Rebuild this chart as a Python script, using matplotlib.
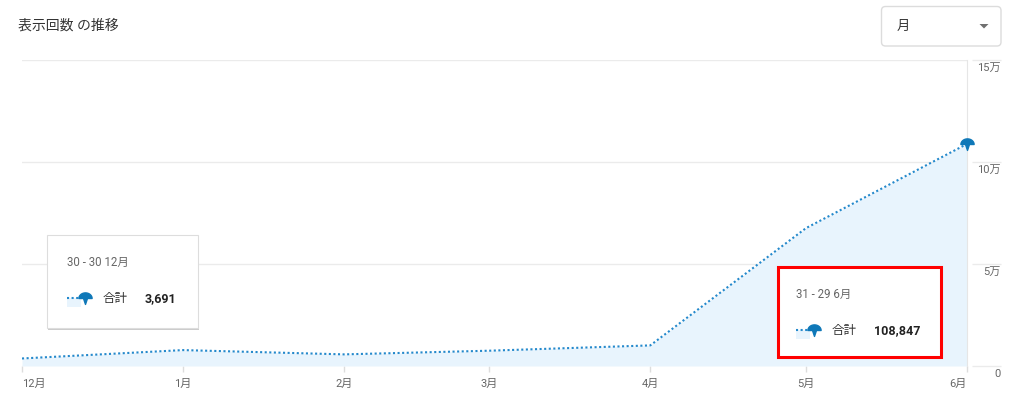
import numpy as np
import matplotlib
matplotlib.use("Agg")
import matplotlib.pyplot as plt
import matplotlib.dates as mdates
import matplotlib.transforms as mtransforms
import matplotlib.patheffects as pe
from matplotlib.path import Path
from matplotlib.patches import Rectangle, FancyBboxPatch, Polygon
from matplotlib.lines import Line2D

plt.rcParams["font.family"] = ["Roboto", "Noto Sans CJK JP", "DejaVu Sans"]

# data
dates = np.array(["2022-12-01", "2023-01-01", "2023-02-01", "2023-03-01",
                  "2023-04-01", "2023-05-01", "2023-06-01"], dtype="datetime64[D]")
month_labels = ["12月", "1月", "2月", "3月", "4月", "5月", "6月"]
views = [3691, 7800, 5700, 7500, 10100, 67600, 108847]
y_ticks = [0, 50000, 100000, 150000]
y_labels = ["0", "5万", "10万", "15万"]

LINE = "#2489cc"
MARK = "#0f78b8"
FILL = "#e8f4fd"
GRID = "#ebebeb"
TICK_TXT = "#666666"


def pin_marker():
    # dome on top, small point below
    t = np.linspace(0, np.pi, 30)
    verts = [(np.cos(a), 0.85 * np.sin(a)) for a in t]
    verts += [(-0.3, 0.0), (0.0, -0.9), (0.3, 0.0), (1.0, 0.0)]
    codes = [Path.MOVETO] + [Path.LINETO] * (len(verts) - 2) + [Path.CLOSEPOLY]
    return Path(verts, codes)


PIN = pin_marker()

fig = plt.figure(figsize=(10.24, 4.01), dpi=100)
ax = fig.add_axes([22 / 1024, 35 / 401, 945 / 1024, 306 / 401])

x = mdates.date2num(dates)
ax.fill_between(x, views, color=FILL, lw=0, zorder=1)
ax.plot(x, views, color=LINE, lw=1.5, ls=(0, (1, 1.2)), zorder=3)
ax.plot(x[-1], views[-1], marker=PIN, ms=9.5, color=MARK, zorder=4, clip_on=False)

ax.set_xlim(x[0], x[-1])
ax.set_ylim(0, 150000)

# y axis on the right
ax.yaxis.tick_right()
ax.set_yticks(y_ticks)
ax.set_yticklabels(y_labels, ha="right", va="top")
ax.tick_params(axis="y", length=0, pad=24.5, labelsize=8, colors=TICK_TXT)
shift = mtransforms.ScaledTranslation(0, -3 / 100, fig.dpi_scale_trans)
for t in ax.yaxis.get_major_ticks():
    t.label2.set_transform(t.label2.get_transform() + shift)
ax.grid(axis="y", color=GRID, lw=1)
ax.hlines(y_ticks, 1.0055, 1.036, transform=ax.get_yaxis_transform(),
          color=GRID, lw=1, clip_on=False)

ax.set_xticks(x)
ax.set_xticklabels(month_labels)
ax.tick_params(axis="x", length=4, width=1, color="#dddddd", pad=5,
               labelsize=8, labelcolor=TICK_TXT)
xl = ax.get_xticklabels()
xl[0].set_ha("left")
xl[-1].set_ha("right")

for s in ["top", "left", "bottom"]:
    ax.spines[s].set_visible(False)
ax.spines["right"].set_color("#e6e6e6")
ax.set_axisbelow(True)

# pixel coordinates, origin top-left
px = mtransforms.Affine2D().scale(1 / 1024, -1 / 401).translate(0, 1) + fig.transFigure

fig.text(18, 26, "表示回数 の推移", transform=px, fontsize=10, color="#333333",
         va="center", ha="left")

# dropdown
fig.patches.append(FancyBboxPatch((881.5, 6.5), 119.5, 39.5,
                                  boxstyle="round,pad=0,rounding_size=4",
                                  fc="white", ec="#dcdcdc", lw=1, transform=px))
fig.text(897, 26.5, "月", transform=px, fontsize=9.5, color="#333333",
         va="center", ha="left")
fig.patches.append(Polygon([(979.5, 24), (988.5, 24), (984, 28.5)],
                           closed=True, fc="#707070", ec="none", transform=px))


def tooltip(x0, y0, w, h, date_txt, value_txt, red=False):
    if red:
        box = Rectangle((x0, y0), w, h, fc="white", ec="#ff0000", lw=2.2,
                        transform=px, zorder=5)
        left = x0 + 18
    else:
        box = Rectangle((x0, y0), w, h, fc="white", ec="#dddddd", lw=0.8,
                        transform=px, zorder=5,
                        path_effects=[pe.SimplePatchShadow(offset=(1, -1.5),
                                                           shadow_rgbFace="k",
                                                           alpha=0.2),
                                      pe.Normal()])
        left = x0 + 20
    fig.patches.append(box)
    fig.text(left, y0 + 28, date_txt, transform=px, fontsize=8.3,
             color=TICK_TXT, va="center", ha="left", zorder=6)
    iy = y0 + 63
    fig.patches.append(Rectangle((left, iy), 14, 9.5, fc=FILL, ec="none",
                                 transform=px, zorder=6))
    fig.lines.append(Line2D([left, left + 15], [iy, iy], color=LINE, lw=1.5,
                            ls=(0, (1, 1.2)), transform=px, zorder=7))
    fig.lines.append(Line2D([left + 18], [iy], marker=PIN, ms=9.5, color=MARK,
                            transform=px, zorder=7))
    fig.text(left + 36, iy + 1, "合計", transform=px, fontsize=9,
             color="#333333", va="center", ha="left", zorder=7)
    fig.text(left + 78, iy + 1, value_txt, transform=px, fontsize=9,
             fontweight="bold", color="#222222", va="center", ha="left", zorder=7)


tooltip(47, 234.5, 151, 93, "30 - 30 12月", "3,691")
tooltip(778, 266.5, 163, 90, "31 - 29 6月", "108,847", red=True)

fig.savefig("out.png", dpi=100, facecolor="white")
